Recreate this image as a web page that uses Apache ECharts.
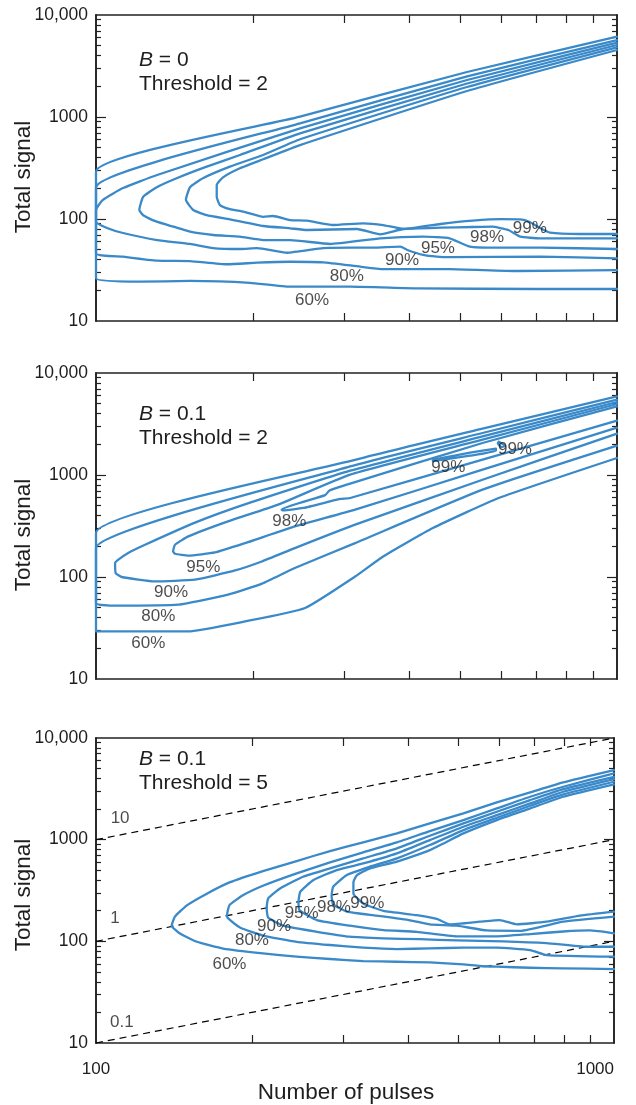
<!DOCTYPE html>
<html><head><meta charset="utf-8">
<script src="https://cdn.jsdelivr.net/npm/echarts@6/dist/echarts.min.js"></script>
<style>html,body{margin:0;padding:0;background:#fff}#c{width:636px;height:1105px}</style>
</head><body><div id="c"></div>
<script>
// ---------- axis ticks / labels ----------
const xTickVals = [200, 300, 400, 500, 600, 700, 800, 900];
const xLabelVals = [100, 1000];
const yLabelVals = [10, 100, 1000, 10000];
const yMajorTicks = [100, 1000];
const yMinorTicks = [20,30,40,50,60,70,80,90,200,300,400,500,600,700,800,900,2000,3000,4000,5000,6000,7000,8000,9000];

// ---------- Panel 1 : B = 0, Threshold = 2 ----------
const p1c60 = [[1000,6128],[515.5,2762],[246.4,1007],[100,291],[100,26.2],[121.5,24.3],[151.5,24.7],[197.5,23.7],[235.7,21.7],[307.5,21.7],[413,20.9],[702,20.6],[1000,20.6]];
const p1c80 = [[1000,5686],[515.5,2496],[246.4,868],[100,205],[100,46.1],[112.7,42.7],[131,39],[151.5,38.7],[178.4,36],[203.9,37.3],[235.7,38.1],[272.9,37.6],[321.4,34.1],[355.8,32.3],[477.3,32.3],[643,30.9],[1000,31.6]];
const p1c90 = [[1000,5352],[515.5,2305],[246.4,775],[131,270],[112.7,201],[103.1,154],[100,122.5],[100,94.1],[105,81.6],[112.7,72.9],[131,62.2],[151.5,56.9],[167.7,51.9],[188.9,50.8],[203.9,51.9],[232.6,46.7],[272.9,51.9],[307.5,52.3],[340.3,52.3],[383.8,53.5],[395.8,49.7],[424.8,44.4],[450.9,42.7],[477.3,42.2],[714,42.7],[1000,41.2]];
const p1c95 = [[1000,5080],[515.5,2130],[246.4,692],[188.9,424],[163.1,326],[142.8,251],[130.8,205],[123.2,165],[121.1,122.5],[123.2,109],[130.8,94.1],[140.8,84],[151.5,75.1],[167.9,69.7],[188.9,67.1],[209.5,62.2],[235.7,62.2],[281.5,56.9],[351.3,64.7],[424.8,67.1],[477.3,64.7],[522.2,53.5],[585.6,52.3],[714,52.3],[1000,50.8]];
const p1c98 = [[1000,4824],[515.5,1969],[246.4,605],[209.3,424],[180.7,326],[160.4,251],[151.5,205],[148.8,154],[153.7,122.5],[163.1,109],[180.7,99.3],[209.5,85.4],[235.7,81.1],[254.3,78],[317,79.8],[351.3,70.8],[388.8,79.8],[458.3,82.2],[528.9,83.5],[575.6,84],[618.5,78],[652.3,67.1],[711.5,64.7],[1000,64.7]];
const p1c99 = [[1000,4539],[515.5,1798],[246.4,531],[209.3,385],[188.9,314],[175.3,256],[170.5,215],[170.5,165],[172.9,137],[180.7,125],[191.8,118],[209.5,105],[218.5,107],[235.7,97.7],[254.3,96.2],[285.3,87.3],[325.5,90.7],[355.8,87.3],[388.8,79.8],[458.3,89.3],[528.9,96.2],[600.5,99.5],[652.3,99],[679.9,93.5],[711.5,81.6],[743.7,73.4],[849,71.3],[1000,71.3]];
const p1Labels = [[259.8,16.1,'60%'],[303,27.6,'80%'],[386.7,39.6,'90%'],[453.3,51.9,'95%'],[563,66.6,'98%'],[680,81.6,'99%']];

// ---------- Panel 2 : B = 0.1, Threshold = 2 ----------
const p2c60 = [[1000,5898],[552,2844],[321,1445],[100,270],[100,29.3],[150,29.3],[193.3,36.7],[252,49.7],[314.3,101],[355.8,159],[443.2,302],[593,595],[1000,1468]];
const p2c80 = [[1000,5474],[552,2581],[307.5,1214],[100,192],[100,55.6],[108.8,52.3],[143.7,53.5],[179.2,67.1],[208.3,86],[240.8,122.5],[314.3,215],[552,718],[1000,1938]];
const p2c90 = [[1000,5195],[552,2390],[307.5,1102],[197.5,535],[154.9,341],[124.2,207],[115.3,172],[110.4,148],[108.8,137],[109.1,109],[112,100],[129.8,90.5],[154.9,94.1],[184.9,116],[208.1,142],[240.8,192],[314.3,326],[552,899],[1000,2541]];
const p2c95 = [[1000,4968],[552,2219],[307.5,1007],[223.6,512],[179.2,351],[150.4,250],[141.8,207],[140.6,178],[141.8,169],[150.4,162],[169.2,174],[193.3,215],[240.8,313],[314.3,457],[552,1128],[1000,2908]];
const p2c98 = [[1000,4705],[552,2059],[307.5,822],[280.3,702],[275.4,634],[227.1,457],[228.8,450],[250,475],[294.2,582],[307.5,595],[552,1413],[1000,3408]];
const p2c99a = [[443.2,1413],[522.2,1654],[585.6,1810],[585.6,1731],[522.2,1546],[443.2,1366],[443.2,1413]];
const p2c99b = [[593,2121],[609.9,1938],[600.5,1873],[590.5,2050],[593,2121]];
const p2Labels = [[126,22.5,'60%'],[131.7,41.1,'80%'],[139.3,70.6,'90%'],[160.7,125,'95%'],[235,351,'98%'],[474.6,1197,'99%'],[637,1799,'99%']];

// ---------- Panel 3 : B = 0.1, Threshold = 5 ----------
const p3c60 = [[1000,4831],[798,3657],[689,2916],[594,2325],[512,1813],[441,1445],[381,1152],[328,940],[283,773],[244,616],[210,491],[181,380],[164,296],[150,227],[142,175],[140,142.5],[145,120],[156.5,99],[176,85],[210,76],[244,70.6],[283,67],[328,64],[381,63],[441,62],[512,59.4],[551,57.2],[594,56.3],[689,55],[798,54.2],[1000,53.4]];
const p3c80 = [[1000,4484],[798,3315],[689,2644],[594,2029],[512,1558],[441,1215],[381,940],[328,750],[283,598],[244,466],[210,352],[192.5,285],[181,227],[179,179],[180,168],[190,136],[210,114],[244,99],[283,92],[328,86.6],[381,84],[441,85.3],[512,86.6],[594,86.6],[689,82],[741,73.3],[1000,70.6]];
const p3c90 = [[1000,4157],[798,3145],[689,2451],[594,1882],[512,1445],[441,1093],[381,821],[328,654],[283,522],[251,432],[227,332],[215,265],[213.5,211],[215,171],[230,142.5],[267,124],[309,111],[359,107],[422,105],[497,102],[611,100],[741,96],[886,88.5],[1000,88.5]];
const p3c95 = [[1000,3944],[798,2960],[689,2273],[594,1745],[512,1341],[441,991],[381,733],[328,584],[291.5,502],[263,401],[248,308],[246,245],[247,203],[267,162],[309,142.5],[359,129],[416,124],[497,112],[594,112],[689,118],[798,125],[899,128],[1000,120]];
const p3c98 = [[1000,3712],[798,2787],[689,2156],[594,1643],[512,1243],[441,885],[381,654],[338,542],[305,449],[287,344],[285,281],[287,231],[305,196],[348,179],[404,161],[441,147],[497,142.5],[568,128],[659,127],[798,156],[1000,175]];
const p3c99 = [[1000,3495],[798,2644],[689,2029],[594,1558],[512,1152],[441,790],[381,607],[338,522],[319,449],[314,380],[314,296],[328,236],[359,199],[416,181],[455,166],[482,147],[551,156],[602,162],[649,147],[741,156],[860,179],[1000,196]];
const p3Labels = [[181,59.9,'60%'],[200,103,'80%'],[220.6,139,'90%'],[249.5,188,'95%'],[288,214,'98%'],[334,237,'99%']];
const dashRatios = [10, 1, 0.1];
const dashEnds = [100, 1000];
const dashLabels = [[111.3,1630,'10'],[108.8,169,'1'],[112.2,16.1,'0.1']];

// ---------- panel texts ----------
const panelB = ['0', '0.1', '0.1'];
const panelThreshold = ['2', '2', '5'];

// ---------- build ----------
const FONT = '"Liberation Sans", Arial, Helvetica, sans-serif';
const BLUE = '#3a89c9';
const AX = '#222';
const TXT = '#1e1e1e';
const grids = [
  {left: 96, top: 15, width: 521, height: 306},
  {left: 96, top: 373, width: 521, height: 306},
  {left: 96, top: 738, width: 518, height: 305}
];
const textY = [[60, 84], [414, 438], [759, 783]];
const titleY = [177, 535, 895];

const xAxes = [], yAxes = [];
grids.forEach((g, i) => {
  const common = {gridIndex: i, type: 'log', logBase: 10, splitLine: {show: false},
    axisLine: {show: true, onZero: false, lineStyle: {color: AX, width: 1.6}}};
  xAxes.push(Object.assign({}, common, {min: 100, max: 1000, position: 'bottom',
    axisTick: {show: true, inside: true, length: 8, customValues: xTickVals, lineStyle: {color: AX, width: 1.2}},
    axisLabel: {show: i === 2, customValues: xLabelVals, fontSize: 17, color: TXT, fontFamily: FONT, margin: 18,
      alignMaxLabel: 'right', formatter: v => String(Math.round(v))}}));
  xAxes.push(Object.assign({}, common, {min: 100, max: 1000, position: 'top',
    axisTick: {show: true, inside: true, length: 8, customValues: xTickVals, lineStyle: {color: AX, width: 1.2}},
    axisLabel: {show: false}}));
  const yc = Object.assign({}, common, {min: 10, max: 10000});
  yAxes.push(Object.assign({}, yc, {position: 'left',
    axisTick: {show: true, inside: true, length: 10, customValues: yMajorTicks, lineStyle: {color: AX, width: 1.2}},
    axisLabel: {show: true, customValues: yLabelVals, fontSize: 17.5, color: TXT, fontFamily: FONT, margin: 8,
      formatter: v => { const r = Math.round(v); return r === 10000 ? '10,000' : String(r); }}}));
  yAxes.push(Object.assign({}, yc, {position: 'left',
    axisTick: {show: true, inside: true, length: 5, customValues: yMinorTicks, lineStyle: {color: AX, width: 1.2}},
    axisLabel: {show: false}}));
  yAxes.push(Object.assign({}, yc, {position: 'right',
    axisTick: {show: true, inside: true, length: 10, customValues: yMajorTicks, lineStyle: {color: AX, width: 1.2}},
    axisLabel: {show: false}}));
  yAxes.push(Object.assign({}, yc, {position: 'right',
    axisTick: {show: true, inside: true, length: 5, customValues: yMinorTicks, lineStyle: {color: AX, width: 1.2}},
    axisLabel: {show: false}}));
});

const series = [];
function contour(panel, data) {
  series.push({type: 'line', xAxisIndex: panel * 2, yAxisIndex: panel * 4, data: data,
    showSymbol: false, symbol: 'none', smooth: 0.15, clip: false, silent: true, z: 3,
    lineStyle: {color: BLUE, width: 2.3, join: 'round', cap: 'round'}});
}
function labels(panel, arr, size) {
  series.push({type: 'scatter', xAxisIndex: panel * 2, yAxisIndex: panel * 4,
    data: arr.map(a => ({value: [a[0], a[1]], name: a[2]})),
    symbolSize: 1, itemStyle: {color: 'rgba(0,0,0,0)'}, silent: true, z: 6,
    label: {show: true, position: 'inside', formatter: '{b}', fontSize: size, color: TXT, fontFamily: FONT}});
}
[p1c60, p1c80, p1c90, p1c95, p1c98, p1c99].forEach(d => contour(0, d));
[p2c60, p2c80, p2c90, p2c95, p2c98, p2c99a, p2c99b].forEach(d => contour(1, d));
[p3c60, p3c80, p3c90, p3c95, p3c98, p3c99].forEach(d => contour(2, d));
dashRatios.forEach(k => {
  series.push({type: 'line', xAxisIndex: 4, yAxisIndex: 8, data: dashEnds.map(n => [n, n * k]),
    showSymbol: false, symbol: 'none', silent: true, z: 2,
    lineStyle: {color: '#000', width: 1.2, type: [7, 5]}});
});
labels(0, p1Labels, 17);
labels(1, p2Labels, 17);
labels(2, p3Labels, 17);
labels(2, dashLabels, 17);

const graphic = [];
grids.forEach((g, i) => {
  graphic.push({type: 'text', x: 139, y: textY[i][0], silent: true,
    style: {text: '{it|B} = ' + panelB[i], fontSize: 21, fontFamily: FONT, fill: TXT, verticalAlign: 'middle', align: 'left',
      rich: {it: {fontStyle: 'italic', fontSize: 21, fontFamily: FONT, fill: TXT}}}});
  graphic.push({type: 'text', x: 139, y: textY[i][1], silent: true,
    style: {text: 'Threshold = ' + panelThreshold[i], fontSize: 21, fontFamily: FONT, fill: TXT, verticalAlign: 'middle', align: 'left'}});
  graphic.push({type: 'text', x: 24, y: titleY[i], rotation: Math.PI / 2, silent: true,
    style: {text: 'Total signal', fontSize: 22.5, fontFamily: FONT, fill: TXT, verticalAlign: 'middle', align: 'center'}});
});
graphic.push({type: 'text', x: 346, y: 1093, silent: true,
  style: {text: 'Number of pulses', fontSize: 22.5, fontFamily: FONT, fill: TXT, verticalAlign: 'middle', align: 'center'}});

const chart = echarts.init(document.getElementById('c'), null, {renderer: 'canvas'});
chart.setOption({
  animation: false,
  backgroundColor: '#fff',
  grid: grids.map(g => Object.assign({containLabel: false, outerBoundsMode: 'none'}, g)),
  xAxis: xAxes,
  yAxis: yAxes,
  series: series,
  graphic: graphic
});
</script></body></html>
